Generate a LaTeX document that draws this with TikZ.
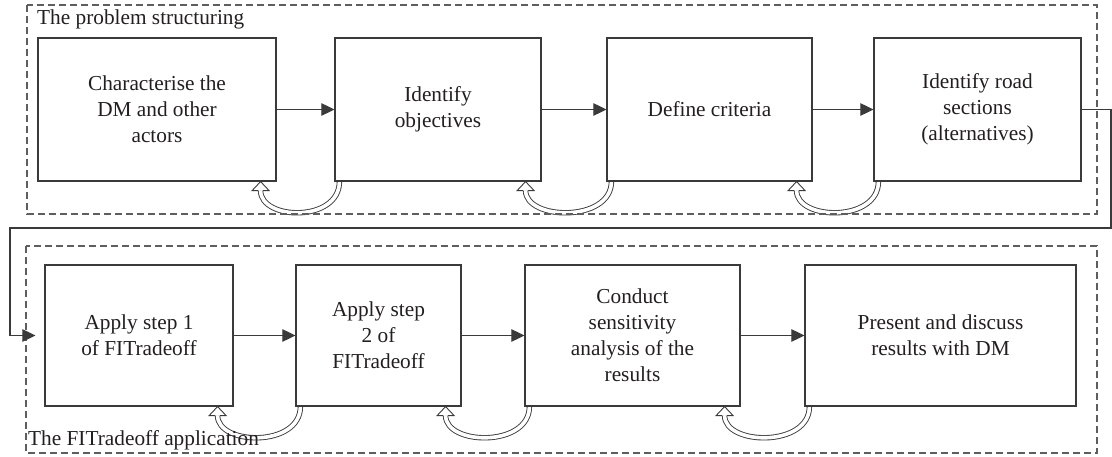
\documentclass[tikz,border=0pt]{standalone}
\usepackage{fontspec}
\setmainfont{Liberation Serif}
\usetikzlibrary{calc,arrows.meta,backgrounds}
\definecolor{ink}{HTML}{231F20}
\definecolor{edge}{HTML}{3A3A3A}
\definecolor{frame}{HTML}{5E5E5E}

\begin{document}
\begin{tikzpicture}[x=1pt,y=-1pt,
  stepbox/.style={draw=edge, line width=1.2pt, fill=white, text=ink,
    align=center, inner sep=0pt, font=\fontsize{21.3}{26}\selectfont},
  flow/.style={draw=edge, line width=1.1pt, -{Triangle[length=13pt,width=12.5pt]}},
  stage/.style={draw=frame, line width=1.2pt, dash pattern=on 7pt off 4pt},
  feedback/.style={draw=edge, line width=0.9pt, double=white, double distance=3.6pt},
  fbhead/.style={draw=edge, line width=0.9pt, fill=white, line join=miter},
  stagelabel/.style={text=ink, inner sep=0pt, anchor=base west,
    font=\fontsize{21.3}{26}\selectfont}]

\useasboundingbox (0,0) rectangle (1112,457);

% stage frames
\draw[stage] (27,5) rectangle (1097,214);
\draw[stage] (26,246) rectangle (1097,453);
\node[stagelabel] (lab1) at (37,25) {The problem structuring};

% problem structuring steps
\node[stepbox, minimum width=238pt, minimum height=143pt] (b1) at (157,109.5)
  {Characterise the\\DM and other\\actors};
\node[stepbox, minimum width=206pt, minimum height=143pt] (b2) at (438,109.5)
  {Identify\\objectives};
\node[stepbox, minimum width=205pt, minimum height=143pt] (b3) at (709.5,109.5)
  {Define criteria};
\node[stepbox, minimum width=207pt, minimum height=143pt] (b4) at (977.5,109.5)
  {Identify road\\sections\\(alternatives)};

% FITradeoff application steps
\node[stepbox, minimum width=188pt, minimum height=141pt] (b5) at (139,335.5)
  {Apply step 1\\of FITradeoff};
\node[stepbox, minimum width=165pt, minimum height=141pt] (b6) at (378.5,335.5)
  {Apply step\\2 of\\FITradeoff};
\node[stepbox, minimum width=215pt, minimum height=141pt] (b7) at (632.5,335.5)
  {Conduct\\sensitivity\\analysis of the\\results};
\node[stepbox, minimum width=271pt, minimum height=141pt] (b8) at (940.5,335.5)
  {Present and discuss\\results with DM};

\node[stagelabel] (lab2) at (28,445) {The FITradeoff application};

% forward flow
\draw[flow] (b1.east) -- (b2.west);
\draw[flow] (b2.east) -- (b3.west);
\draw[flow] (b3.east) -- (b4.west);
\draw[flow] (b5.east) -- (b6.west);
\draw[flow] (b6.east) -- (b7.west);
\draw[flow] (b7.east) -- (b8.west);

% link from the first stage to the second
\coordinate (turnR) at (1111,228);
\coordinate (turnL) at (10,228);
\draw[flow, shorten >=9pt] (b4.east) -- (b4.east -| turnR) -- (turnR)
  -- (turnL) -- (turnL |- b5.west) -- (b5.west);

% feedback loops back to the previous step
\begin{scope}[on background layer]
\foreach \a/\b in {b1/b2,b2/b3,b3/b4,b5/b6,b6/b7,b7/b8} {
  \coordinate (fbS) at ($(\b.south west)+(5,0)$);
  \coordinate (fbT) at ($(\a.south east)+(-16,0)$);
  \coordinate (fbE) at ($(fbT)+(0,9)$);
  \draw[feedback] (fbS) .. controls +(0,41) and +(0,30) .. (fbE);
  \draw[fbhead] ($(fbE)+(-2.2,0)$) -- ($(fbE)+(-8.5,0)$) -- (fbT)
    -- ($(fbE)+(8.5,0)$) -- ($(fbE)+(2.2,0)$);
}
\end{scope}
\end{tikzpicture}
\end{document}
